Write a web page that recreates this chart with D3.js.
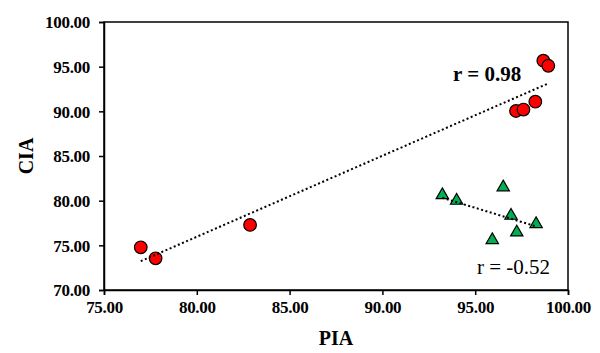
<!DOCTYPE html>
<html>
<head>
<meta charset="utf-8">
<script src="https://cdn.jsdelivr.net/npm/d3@7"></script>
<style>
  html, body { margin: 0; padding: 0; background: #fff; }
  text { font-family: "Liberation Serif", "Times New Roman", serif; }
</style>
</head>
<body>
<div id="chart"></div>
<script>
// data
const red_pia   = [76.98, 77.78, 82.87, 98.67, 98.94, 97.20, 97.60, 98.24];
const red_cia   = [74.78, 73.55, 77.28, 95.67, 95.10, 90.04, 90.20, 91.08];
const green_pia = [93.23, 94.00, 96.51, 96.93, 98.28, 97.24, 95.92];
const green_cia = [80.63, 80.00, 81.50, 78.32, 77.39, 76.45, 75.60];
const x_ticks = [75, 80, 85, 90, 95, 100];
const y_ticks = [70, 75, 80, 85, 90, 95, 100];
const r_labels = ['r = 0.98', 'r = -0.52'];

const width = 600, height = 353;
const margin = { top: 22, right: 32, bottom: 63, left: 104 };

const svg = d3.select('#chart').append('svg')
  .attr('width', width)
  .attr('height', height)
  .attr('viewBox', [0, 0, width, height]);

const x = d3.scaleLinear().domain([75, 100]).range([margin.left, width - margin.right]);
const y = d3.scaleLinear().domain([70, 100]).range([height - margin.bottom, margin.top]);

// least squares line
function fit(xs, ys) {
  const mx = d3.mean(xs), my = d3.mean(ys);
  const sxy = d3.sum(xs, (v, i) => (v - mx) * (ys[i] - my));
  const sxx = d3.sum(xs, v => (v - mx) * (v - mx));
  const b = sxy / sxx, a = my - b * mx;
  const x0 = d3.min(xs), x1 = d3.max(xs);
  return [[x0, a + b * x0], [x1, a + b * x1]];
}

// frame
svg.append('rect')
  .attr('x', x(75)).attr('y', y(100))
  .attr('width', x(100) - x(75)).attr('height', y(70) - y(100))
  .attr('fill', 'none').attr('stroke', '#000').attr('stroke-width', 1.5);

// axes
const xAxis = svg.append('g')
  .attr('transform', `translate(0,${y(70)})`)
  .call(d3.axisBottom(x).tickValues(x_ticks).tickFormat(d3.format('.2f')).tickSizeOuter(0).tickSize(5).tickPadding(6));
const yAxis = svg.append('g')
  .attr('transform', `translate(${x(75)},0)`)
  .call(d3.axisLeft(y).tickValues(y_ticks).tickFormat(d3.format('.2f')).tickSizeOuter(0).tickSize(5).tickPadding(9));

[xAxis, yAxis].forEach(g => {
  g.attr('font-family', null);
  g.select('.domain').attr('stroke', '#000').attr('stroke-width', 1.5);
  g.selectAll('.tick line').attr('stroke', '#000').attr('stroke-width', 1.5);
  g.selectAll('.tick text')
    .attr('fill', '#000')
    .attr('font-weight', 'bold')
    .attr('font-size', 17)
    .attr('letter-spacing', -0.3);
});
yAxis.selectAll('.tick text').attr('dy', '0.34em');

// axis titles
svg.append('text')
  .attr('x', x(87.5)).attr('y', 345)
  .attr('text-anchor', 'middle')
  .attr('font-weight', 'bold').attr('font-size', 20)
  .text('PIA');
svg.append('text')
  .attr('transform', `translate(33,${y(85)}) rotate(-90)`)
  .attr('text-anchor', 'middle')
  .attr('font-weight', 'bold').attr('font-size', 20)
  .text('CIA');

// markers
const red = red_pia.map((v, i) => [v, red_cia[i]]);
const green = green_pia.map((v, i) => [v, green_cia[i]]);

svg.append('g')
  .selectAll('circle')
  .data(red)
  .join('circle')
  .attr('cx', d => x(d[0]))
  .attr('cy', d => y(d[1]))
  .attr('r', 6.3)
  .attr('fill', '#ff0000')
  .attr('stroke', '#000')
  .attr('stroke-width', 1.2);

const tri = d3.symbol().type(d3.symbolTriangle).size(66);
svg.append('g')
  .selectAll('path')
  .data(green)
  .join('path')
  .attr('d', tri)
  .attr('transform', d => `translate(${x(d[0])},${y(d[1])})`)
  .attr('fill', '#00b050')
  .attr('stroke', '#000')
  .attr('stroke-width', 1.2);

// trend lines
const line = d3.line().x(d => x(d[0])).y(d => y(d[1]));
[fit(red_pia, red_cia), fit(green_pia, green_cia)].forEach(seg => {
  svg.append('path')
    .attr('d', line(seg))
    .attr('fill', 'none')
    .attr('stroke', '#000')
    .attr('stroke-width', 2)
    .attr('stroke-dasharray', '2,2.5');
});

// r labels
svg.append('text')
  .attr('x', 453).attr('y', 81)
  .attr('font-weight', 'bold').attr('font-size', 21)
  .text(r_labels[0]);
svg.append('text')
  .attr('x', 477).attr('y', 274)
  .attr('font-size', 21)
  .text(r_labels[1]);
</script>
</body>
</html>
